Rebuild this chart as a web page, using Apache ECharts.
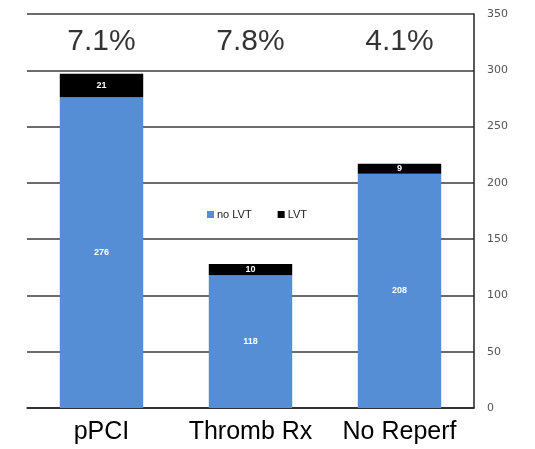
<!DOCTYPE html>
<html>
<head>
<meta charset="utf-8">
<script src="https://cdn.jsdelivr.net/npm/echarts@6/dist/echarts.min.js"></script>
<style>
  html, body { margin: 0; padding: 0; background: #fff; }
  #chart { width: 535px; height: 449px; }
</style>
</head>
<body>
<div id="chart"></div>
<script>
// Patient groups and LVT counts
const categories = ['pPCI', 'Thromb Rx', 'No Reperf'];
const noLvt = [276, 118, 208];
const lvt = [21, 10, 9];
const yTicks = { min: 0, max: 350, interval: 50 };

// LVT share per group, shown above the bars
const lvtPercent = lvt.map((v, i) => (v / (v + noLvt[i]) * 100).toFixed(1) + '%');
const percentRow = 325;

const chart = echarts.init(document.getElementById('chart'));
const font = 'Liberation Sans, Arial, sans-serif';

chart.setOption({
  animation: false,
  grid: { left: 27, right: 61, top: 14, bottom: 41 },
  legend: {
    data: ['no LVT', 'LVT'],
    left: 202, top: 204,
    itemWidth: 7, itemHeight: 7, itemGap: 26,
    icon: 'rect',
    textStyle: { fontFamily: font, fontSize: 11, color: '#222', padding: [0, 0, 0, -2] }
  },
  xAxis: {
    type: 'category',
    data: categories,
    axisLine: { lineStyle: { color: '#222', width: 1.5 } },
    axisTick: { show: false },
    axisLabel: { interval: 0, hideOverlap: false, fontFamily: font, fontSize: 25, color: '#000', margin: 12 }
  },
  yAxis: {
    type: 'value',
    position: 'right',
    min: yTicks.min, max: yTicks.max, interval: yTicks.interval,
    axisLine: { show: true, lineStyle: { color: '#222', width: 1.5 } },
    axisTick: { show: false },
    axisLabel: { fontFamily: 'DejaVu Sans, sans-serif', fontSize: 11, color: '#555', margin: 13 },
    splitLine: { lineStyle: { color: '#3a3a3a', width: 1.5 } }
  },
  series: [
    {
      name: 'no LVT', type: 'bar', stack: 'total', data: noLvt,
      barWidth: '56%',
      itemStyle: { color: '#558ed5' },
      label: { show: true, position: 'inside', color: '#fff', fontSize: 9, fontWeight: 'bold', fontFamily: font }
    },
    {
      name: 'LVT', type: 'bar', stack: 'total', data: lvt,
      itemStyle: { color: '#000' },
      label: { show: true, position: 'inside', color: '#fff', fontSize: 9, fontWeight: 'bold', fontFamily: font }
    },
    {
      name: 'pct', type: 'scatter', symbolSize: 0,
      data: categories.map(() => percentRow),
      label: {
        show: true, position: 'inside',
        formatter: p => lvtPercent[p.dataIndex],
        fontFamily: font, fontSize: 30, color: '#000'
      },
      silent: true
    }
  ]
});
</script>
</body>
</html>
